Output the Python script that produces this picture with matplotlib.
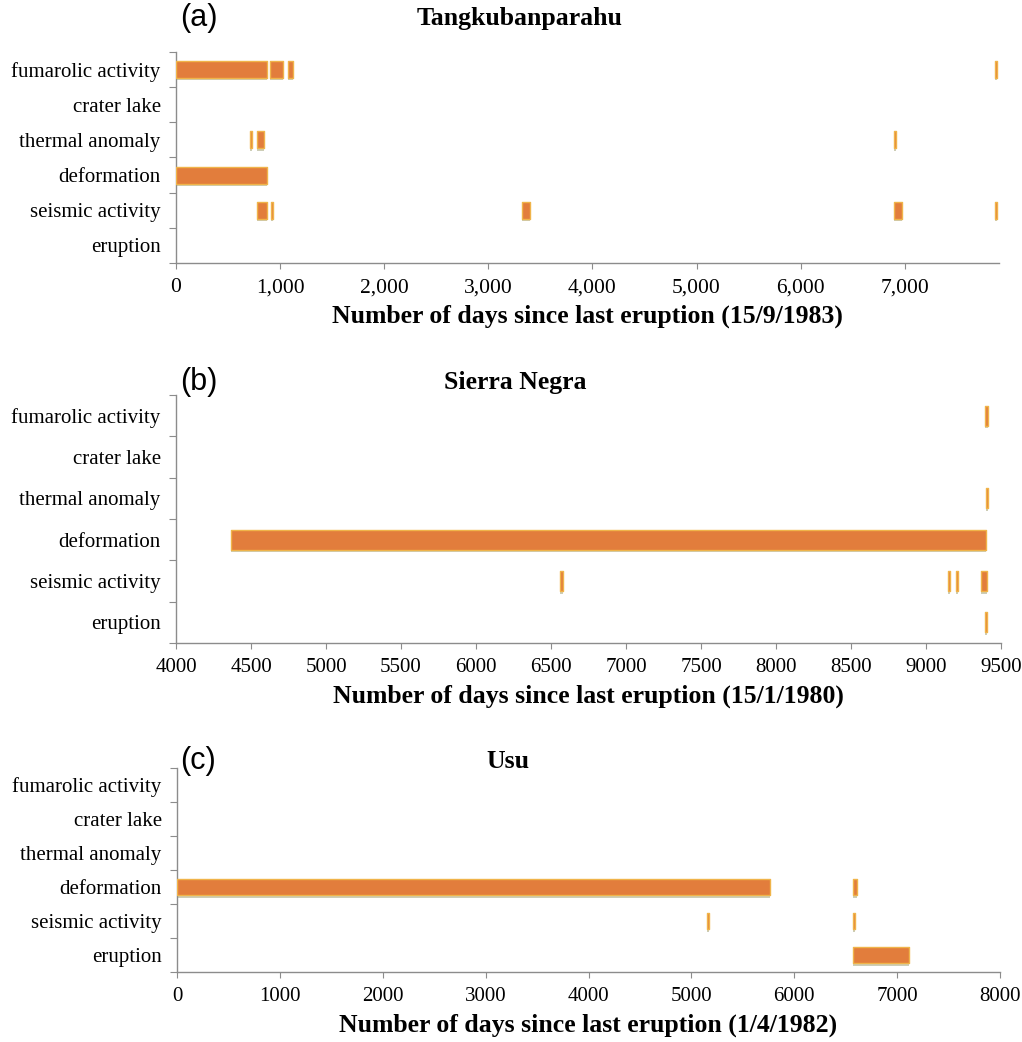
import numpy as np
import matplotlib
matplotlib.use("Agg")
from matplotlib import pyplot as plt

serif = ["Liberation Serif", "DejaVu Serif"]
sans = ["Liberation Sans", "DejaVu Sans"]

# categories, bottom to top
categories = ["eruption", "seismic activity", "deformation",
              "thermal anomaly", "crater lake", "fumarolic activity"]

# (a) Tangkubanparahu, segments as (start day, duration in days)
tangku_fumarolic = [(0, 870), (900, 125), (1080, 40), (7865, 20)]
tangku_crater = []
tangku_thermal = [(712, 18), (781, 67), (6900, 18)]
tangku_deformation = [(0, 877)]
tangku_seismic = [(781, 96), (912, 18), (3320, 80), (6900, 77), (7865, 20)]
tangku_eruption = []

# (b) Sierra Negra
sierra_fumarolic = [(9390, 25)]
sierra_crater = []
sierra_thermal = [(9398, 15)]
sierra_deformation = [(4367, 5033)]
sierra_seismic = [(6562, 15), (9148, 15), (9200, 15), (9365, 40)]
sierra_eruption = [(9392, 15)]

# (c) Usu
usu_fumarolic = []
usu_crater = []
usu_thermal = []
usu_deformation = [(0, 5760), (6570, 38)]
usu_seismic = [(5150, 18), (6570, 18)]
usu_eruption = [(6570, 550)]

panels = [
    ("(a)", "Tangkubanparahu", "Number of days since last eruption (15/9/1983)",
     [tangku_eruption, tangku_seismic, tangku_deformation,
      tangku_thermal, tangku_crater, tangku_fumarolic],
     (0, 7905), np.arange(0, 8000, 1000), True),
    ("(b)", "Sierra Negra", "Number of days since last eruption (15/1/1980)",
     [sierra_eruption, sierra_seismic, sierra_deformation,
      sierra_thermal, sierra_crater, sierra_fumarolic],
     (4000, 9500), np.arange(4000, 9501, 500), False),
    ("(c)", "Usu", "Number of days since last eruption (1/4/1982)",
     [usu_eruption, usu_seismic, usu_deformation,
      usu_thermal, usu_crater, usu_fumarolic],
     (0, 8000), np.arange(0, 8001, 1000), False),
]

# axes boxes in pixels: left, top, right, bottom
boxes = [(176, 52, 999, 263), (176, 395, 1001, 643), (177, 768, 1000, 972)]
# pixel positions of panel tag, title (x, y)
tag_pos = [(180, 18), (180, 382), (180, 761)]
title_pos = [(520, 18), (515, 383), (508, 761)]
W, H = 1022, 1042

fig = plt.figure(figsize=(W / 100, H / 100), dpi=100)

bar_h = 0.48
for k, ((tag, title, xlab, rows, xlim, xticks, comma), (l, t, r, b)) in enumerate(zip(panels, boxes)):
    ax = fig.add_axes([l / W, 1 - b / H, (r - l) / W, (b - t) / H])
    for i, segs in enumerate(rows):
        if not segs:
            continue
        # soft shadow below the bar, then the orange bar with yellow rim
        ax.broken_barh(segs, (i - bar_h / 2 - 0.07, bar_h), facecolors="#b9b898",
                       edgecolor="none", alpha=0.7, zorder=2)
        ax.broken_barh(segs, (i - bar_h / 2, bar_h), facecolors="#e27d3c",
                       edgecolor="#f0b44a", linewidth=1.0, zorder=3)
    ax.set_xlim(*xlim)
    ax.set_ylim(-0.5, len(categories) - 0.5)

    ax.set_yticks(np.arange(-0.5, len(categories), 1.0))
    ax.set_yticklabels([])
    ax.set_yticks(np.arange(len(categories)), minor=True)
    ax.set_yticklabels(categories, minor=True, fontsize=15, family=serif)
    ax.tick_params(axis="y", which="major", length=5, color="#8c8c8c", direction="out")
    ax.tick_params(axis="y", which="minor", length=0, pad=11)

    ax.set_xticks(xticks)
    if comma:
        ax.set_xticklabels([f"{v:,}" for v in xticks], fontsize=15.5, family=serif)
    else:
        ax.set_xticklabels([str(v) for v in xticks], fontsize=15, family=serif)
    ax.tick_params(axis="x", length=4, color="#8c8c8c", direction="out", pad=7)

    for s in ["top", "right"]:
        ax.spines[s].set_visible(False)
    for s in ["left", "bottom"]:
        ax.spines[s].set_color("#8c8c8c")
        ax.spines[s].set_linewidth(1.0)

    ax.set_xlabel(xlab, fontsize=18.5, fontweight="bold", family=serif, labelpad=5)
    tx, ty = title_pos[k]
    fig.text(tx / W, 1 - ty / H, title, fontsize=18.5, fontweight="bold",
             family=serif, ha="center", va="center")
    px, py = tag_pos[k]
    fig.text(px / W, 1 - py / H, tag, fontsize=22, family=sans,
             ha="left", va="center")

fig.savefig("out.png", dpi=100)
